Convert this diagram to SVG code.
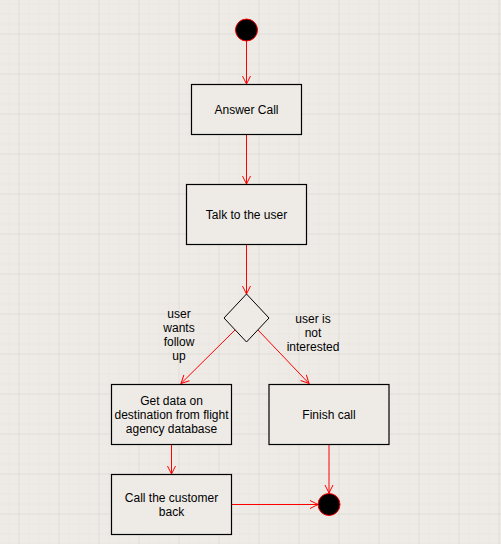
<svg xmlns="http://www.w3.org/2000/svg" width="501" height="544" viewBox="0 0 501 544">
<defs>
<pattern id="minor" width="10" height="10" patternUnits="userSpaceOnUse" x="-0.5" y="4.5">
<path d="M10 0V10M0 10H10" fill="none" stroke="#e6e2dc" stroke-width="1"/>
</pattern>
<pattern id="major" width="40" height="40" patternUnits="userSpaceOnUse" x="-20.5" y="-5.5">
<path d="M40 0V40M0 40H40" fill="none" stroke="#d8d6d3" stroke-width="1"/>
</pattern>
<marker id="arr" viewBox="0 0 10 10" refX="9" refY="5" markerWidth="10" markerHeight="10" markerUnits="userSpaceOnUse" orient="auto">
<path d="M1 1L9 5L1 9" fill="none" stroke="#ff0000" stroke-width="1"/>
</marker>
<style>
.box{fill:#eeebe6;stroke:#000;stroke-width:1.2}
.dot{fill:#000;stroke:#ff0000;stroke-width:1}
.t{font-family:"Liberation Sans",Arial,sans-serif;font-size:12px;fill:#000;text-anchor:middle}
.c{fill:none;stroke:#ff0000;stroke-width:1;marker-end:url(#arr)}
</style>
</defs>
<rect width="501" height="544" fill="#eeebe6"/>
<rect width="501" height="544" fill="url(#minor)"/>
<rect width="501" height="544" fill="url(#major)"/>
<g id="connectors">
<path class="c" d="M246.5 41V84"/>
<path class="c" d="M246.5 134V184"/>
<path class="c" d="M246.5 244V294"/>
<path class="c" d="M235 330L181 383.5"/>
<path class="c" d="M258 330L309 383.5"/>
<path class="c" d="M171.5 444V474"/>
<path class="c" d="M329 444V493"/>
<path class="c" d="M232 504.5H318"/>
<text class="t" x="179" y="318">user</text>
<text class="t" x="179" y="332">wants</text>
<text class="t" x="179" y="346">follow</text>
<text class="t" x="179" y="360">up</text>
<text class="t" x="313" y="323">user is</text>
<text class="t" x="313" y="337">not</text>
<text class="t" x="313" y="351">interested</text>
</g>
<g id="start"><circle class="dot" cx="246.5" cy="30" r="11"/></g>
<g id="answer-call"><rect class="box" x="191.5" y="84.5" width="110" height="50"/><text class="t" x="246.5" y="113.5">Answer Call</text></g>
<g id="talk"><rect class="box" x="186.5" y="184.5" width="120" height="60"/><text class="t" x="246.5" y="218.5">Talk to the user</text></g>
<g id="decision"><path d="M246.5 294L269 318L246.5 342L224 318Z" fill="#eeebe6" stroke="#000" stroke-width="1"/></g>
<g id="get-data"><rect class="box" x="111.5" y="384.5" width="120" height="60"/><text class="t" x="171.5" y="405">Get data on</text><text class="t" x="171.5" y="419">destination from flight</text><text class="t" x="171.5" y="433">agency database</text></g>
<g id="finish-call"><rect class="box" x="269" y="384.5" width="120" height="60"/><text class="t" x="329" y="418.5">Finish call</text></g>
<g id="call-back"><rect class="box" x="111.5" y="474.5" width="120" height="60"/><text class="t" x="171.5" y="502">Call the customer</text><text class="t" x="171.5" y="515.5">back</text></g>
<g id="end"><circle class="dot" cx="329" cy="504.5" r="11"/></g>
</svg>
